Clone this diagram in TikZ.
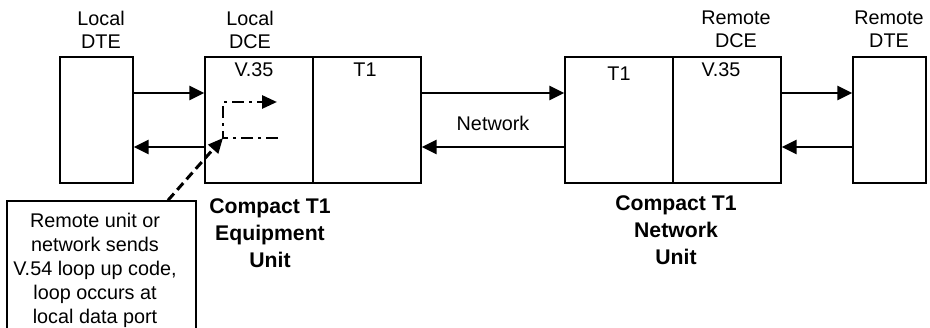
\documentclass[tikz,border=0pt]{standalone}
\usepackage{fontspec}
\setmainfont{Liberation Sans}
\usetikzlibrary{arrows.meta}
\begin{document}
\begin{tikzpicture}[x=1pt,y=-1pt,
  unitbox/.style={draw,line width=1.4pt,inner sep=0pt,minimum height=126pt},
  lbl/.style={font=\fontsize{19.8}{23}\selectfont,align=center,inner sep=0pt,anchor=north},
  txt/.style={font=\fontsize{19.8}{23}\selectfont,inner sep=0pt,anchor=base},
  note/.style={font=\fontsize{19.8}{24}\selectfont,align=center,inner sep=0pt,anchor=north},
  blbl/.style={font=\fontsize{21.2}{27}\selectfont\bfseries,align=center,inner sep=0pt,anchor=north},
  arr/.style={line width=2.8pt,-{Triangle[length=15pt,width=14pt]}},
  dd/.style={line width=2.8pt,dash pattern=on 12pt off 5pt on 3pt off 5pt},
  dsh/.style={line width=3pt,dash pattern=on 9pt off 5pt,-{Triangle[length=15pt,width=13pt]}}
]
\fill[white] (0,0) rectangle (930,328);
\useasboundingbox (0,0) rectangle (930,328);

% boxes
\node[unitbox,minimum width=73pt]  (ldte) at (96.5,120) {};
\node[unitbox,minimum width=108pt] (ldce) at (259,120) {};
\node[unitbox,minimum width=108pt] (lt1)  at (367,120) {};
\node[unitbox,minimum width=108pt] (rt1)  at (619,120) {};
\node[unitbox,minimum width=108pt] (rdce) at (727,120) {};
\node[unitbox,minimum width=73pt]  (rdte) at (889.5,120) {};

% top labels
\node[lbl] (ldtel) at (101,11) {Local\\DTE};
\node[lbl] (ldcel) at (250,11) {Local\\DCE};
\node[lbl] (rdcel) at (736,11) {Remote\\DCE};
\node[lbl] (rdtel) at (889,11) {Remote\\DTE};

% inner labels
\node[txt] (lv35) at (254,77) {V.35};
\node[txt] (lt1l) at (365,77) {T1};
\node[txt] (rt1l) at (619,81) {T1};
\node[txt] (rv35) at (721,77) {V.35};
\node[txt] (netl) at (493,131) {Network};

% unit labels
\node[blbl] (lunit) at (270,198.5) {Compact T1\\Equipment\\Unit};
\node[blbl] (runit) at (676,195.5) {Compact T1\\Network\\Unit};

% note box
\node[draw,line width=1.4pt,minimum width=189pt,minimum height=140pt,inner sep=0pt] (tbox) at (101.5,271) {};
\node[note] (tnote) at (95,213) {Remote unit or\\network sends\\V.54 loop up code,\\loop occurs at\\local data port};

% arrows
\coordinate (ya) at (0,93);
\coordinate (yb) at (0,147);
\draw[arr] (ldte.east |- ya) -- (ldce.west |- ya);
\draw[arr] (ldce.west |- yb) -- (ldte.east |- yb);
\draw[arr] (lt1.east |- ya) -- (rt1.west |- ya);
\draw[arr] (rt1.west |- yb) -- (lt1.east |- yb);
\draw[arr] (rdce.east |- ya) -- (rdte.west |- ya);
\draw[arr] (rdte.west |- yb) -- (rdce.east |- yb);

% loop
\coordinate (lpe) at (278,138);
\coordinate (lpc) at (223,138);
\coordinate (lpt) at (223,102);
\coordinate (lph) at (277,102);
\draw[dd,-{Triangle[length=15pt,width=13pt]}] (lpe) -- (lpc) -- (lpt) -- (lph);

% dashed pointer
\coordinate (dsx) at (168,0);
\draw[dsh] (tbox.north -| dsx) -- (lpc);
\end{tikzpicture}
\end{document}
